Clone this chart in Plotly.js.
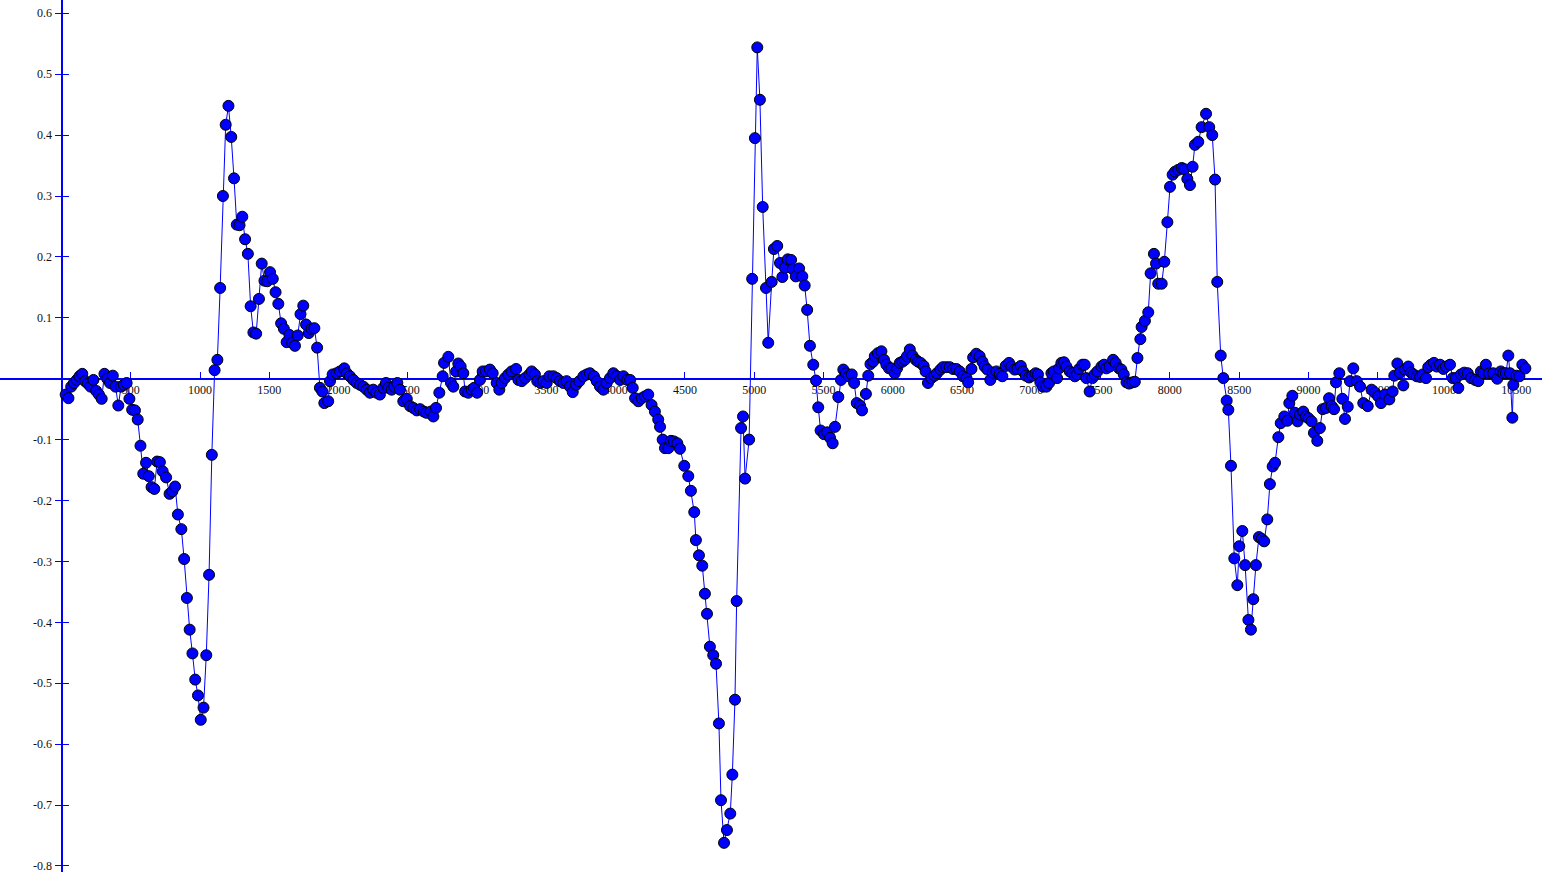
<!DOCTYPE html>
<html>
<head>
<meta charset="utf-8">
<script src="https://cdn.plot.ly/plotly-3.0.1.min.js"></script>
<style>html,body{margin:0;padding:0;background:#fff;overflow:hidden}#chart{width:1542px;height:872px}</style>
</head>
<body>
<div id="chart"></div>
<script>
// sample positions (x) and measured values (y)
const xs = [
30,50,70,90,110,130,150,170,190,210,230,250,270,290,310,330,350,370,390,410,430,450,470,490,510,530,550,570,590,610,630,650,670,690,710,730,755,780,800,820,840,865,885,905,925,945,965,985,1005,1025,1045,1065,1085,1105,1125,1145,1165,1185,1205,1225,1245,1265,1285,1305,1325,1345,1365,1385,1405,1425,1445,1465,1485,1505,1525,1545,1565,1585,1605,1625,1645,1665,1685,1705,1725,1745,1765,1785,1805,1825,1845,
1865,1883,1897,1925,1938,1957,1986,2010,2041,2059,2082,2106,2131,2155,2179,2203,2226,2250,2274,2298,2322,2342,2359,2383,2402,2424,2443,2467,2492,2516,2539,2564,2588,2616,2635,2664,2684,2703,2727,2751,2761,2792,2811,2828,2848,2864,2881,2900,2913,2936,2961,2978,3000,3020,3040,3064,3092,3112,3141,3160,3177,3201,3225,3249,3281,3298,3322,3346,3377,3394,3417,3434,3458,3477,3502,3521,3550,3574,3598,3622,3646,3670,3690,3714,3738,3767,3791,3814,3843,3863,3887,3911,3935,3959,3983,4008,4032,4056,4084,4104,4123,4140,4164,4188,4211,4235,4259,4283,
4307,4320,4339,4356,4380,4399,4421,4445,4464,4495,4524,4543,4567,4579,4601,4625,4644,4659,4680,4704,4724,4745,4760,4782,4803,4827,4842,4861,4873,4905,4919,4934,4963,4985,5005,5022,5041,5061,5085,5101,5126,5142,5166,5186,5203,5222,5242,5266,5278,5300,5324,5347,5364,5382,5402,5426,5446,5462,5479,5503,5527,5547,5566,5583,5607,5626,5643,5663,5682,5704,5721,5740,5764,5778,5806,5823,
5839,5858,5870,5893,5918,5937,5954,5973,5990,6014,6031,6051,6070,6087,6103,6123,6142,6166,6183,6201,6223,6237,6254,6278,6302,6319,6344,6362,6387,6411,6435,6459,6483,6507,6532,6544,6568,6580,6603,6627,6647,6663,6683,6704,6723,6748,6772,6791,6815,6839,6857,6880,6900,6924,6940,6960,6984,7007,7031,7048,7065,7084,7109,7128,7145,7162,7186,7200,7217,7236,7253,7277,7297,7314,7330,7345,7369,7385,7397,7421,7441,7457,7477,7506,7525,7542,7566,7590,7609,7633,7650,7667,7687,7706,7730,7747,7766,7787,
7796,7820,7844,7861,7885,7900,7916,7941,7960,7982,8001,8020,8037,8061,8086,8104,8126,8145,8164,8181,8205,8229,8261,8284,8306,8326,8342,8367,8386,
8410,8422,8441,8465,8487,8501,8523,8543,8567,8585,8602,8621,8643,8663,8681,8703,8722,8742,8759,8783,8800,8826,8848,8862,8884,8903,8922,8940,8963,8982,9001,9023,9040,9064,9083,9103,9127,9149,9168,9185,9199,9223,9245,9264,9284,9300,9324,9349,9373,9396,9428,9456,9480,9504,9524,9553,9584,9608,9620,9642,9661,9685,9697,9721,9741,9758,9782,9806,9825,9849,9865,9884,9906,9926,9950,9974,9993,10022,10042,10065,10082,10101,10125,10150,10174,10203,10226,10245,10262,10281,10305,10334,10363,10388,10407,10426,10443,10455,10472,10479,10502,10523,10544,10566
];
const ys = [
-0.026,-0.032,-0.013,-0.007,-0.002,0.004,0.008,-0.004,-0.008,-0.013,-0.002,-0.020,-0.026,-0.033,0.008,0.000,-0.007,0.005,-0.013,-0.044,-0.013,-0.010,-0.007,-0.033,-0.051,-0.052,-0.067,-0.110,-0.156,-0.138,-0.160,-0.178,-0.181,-0.136,-0.137,-0.152,-0.162,-0.189,-0.185,-0.177,-0.223,-0.247,-0.296,-0.360,-0.412,-0.451,-0.494,-0.520,-0.560,-0.540,-0.454,-0.322,-0.125,0.014,0.031,0.149,0.300,0.417,0.448,0.397,0.329,0.253,0.252,0.266,0.229,0.205,0.119,0.076,0.074,0.131,0.189,0.161,0.160,0.175,0.164,0.142,0.123,0.091,0.082,0.060,0.072,0.059,0.054,0.071,0.106,0.120,0.089,0.075,0.082,0.083,0.051,
-0.015,-0.021,-0.040,-0.037,-0.004,0.007,0.009,0.012,0.017,0.009,0.004,-0.002,-0.007,-0.010,-0.013,-0.018,-0.023,-0.018,-0.023,-0.026,-0.015,-0.007,-0.015,-0.018,-0.013,-0.007,-0.018,-0.037,-0.033,-0.045,-0.048,-0.052,-0.050,-0.054,-0.056,-0.054,-0.062,-0.048,-0.023,0.004,0.026,0.036,-0.007,-0.013,0.012,0.025,0.020,0.009,-0.021,-0.023,-0.018,-0.015,-0.023,-0.002,0.012,0.012,0.015,0.009,-0.007,-0.018,-0.007,0.001,0.007,0.012,0.016,-0.002,-0.004,0.001,0.007,0.012,0.007,-0.004,-0.007,-0.004,-0.007,0.004,0.004,0.001,-0.004,-0.007,-0.004,-0.013,-0.022,-0.010,-0.004,0.004,0.007,0.009,0.004,-0.004,-0.013,-0.018,-0.007,0.001,0.009,0.004,-0.002,0.004,-0.002,-0.002,-0.015,-0.032,-0.037,-0.032,-0.029,-0.026,-0.043,-0.054,
-0.067,-0.079,-0.100,-0.114,-0.114,-0.102,-0.103,-0.106,-0.115,-0.143,-0.160,-0.184,-0.219,-0.265,-0.290,-0.307,-0.353,-0.386,-0.440,-0.454,-0.468,-0.566,-0.692,-0.762,-0.741,-0.714,-0.650,-0.527,-0.365,-0.081,-0.062,-0.164,-0.100,0.164,0.395,0.544,0.458,0.282,0.149,0.059,0.159,0.213,0.218,0.190,0.167,0.182,0.196,0.195,0.180,0.168,0.181,0.168,0.153,0.113,0.054,0.023,-0.003,-0.047,-0.085,-0.091,-0.088,-0.097,-0.106,-0.079,-0.030,-0.002,0.015,0.009,0.004,0.007,-0.007,-0.040,-0.044,-0.052,-0.025,0.005,
0.024,0.028,0.037,0.042,0.045,0.031,0.023,0.017,0.017,0.009,0.017,0.026,0.028,0.031,0.037,0.048,0.038,0.031,0.028,0.026,0.021,0.012,-0.007,0.001,0.005,0.009,0.015,0.019,0.019,0.019,0.016,0.016,0.012,0.004,0.001,-0.006,0.016,0.035,0.041,0.037,0.028,0.020,0.015,-0.002,0.010,0.012,0.008,0.004,0.021,0.026,0.020,0.015,0.016,0.021,0.012,0.005,0.002,0.005,0.009,0.007,-0.006,-0.013,-0.013,-0.007,0.009,0.012,0.001,0.017,0.026,0.027,0.020,0.012,0.009,0.004,0.007,0.016,0.023,0.023,0.001,-0.021,0.001,0.007,0.012,0.020,0.023,0.017,0.020,0.031,0.026,0.017,0.015,0.007,-0.006,-0.008,-0.006,-0.005,0.034,0.065,
0.085,0.095,0.109,0.173,0.205,0.189,0.156,0.156,0.192,0.257,0.315,0.335,0.340,0.343,0.346,0.344,0.328,0.318,0.348,0.384,0.389,0.413,0.435,0.413,0.400,0.327,0.159,0.038,0.001,
-0.036,-0.051,-0.143,-0.295,-0.339,-0.275,-0.250,-0.306,-0.396,-0.412,-0.362,-0.306,-0.260,-0.263,-0.267,-0.231,-0.173,-0.144,-0.138,-0.096,-0.073,-0.062,-0.069,-0.040,-0.028,-0.056,-0.070,-0.059,-0.054,-0.062,-0.065,-0.070,-0.089,-0.102,-0.081,-0.050,-0.048,-0.032,-0.045,-0.050,-0.006,0.009,-0.033,-0.066,-0.046,-0.004,0.017,-0.004,-0.013,-0.040,-0.045,-0.018,-0.023,-0.029,-0.040,-0.026,-0.034,-0.021,0.005,0.025,0.010,-0.011,0.015,0.020,0.010,0.007,0.004,0.003,0.007,0.001,0.019,0.023,0.026,0.020,0.023,0.016,0.020,0.023,0.001,0.001,-0.015,0.007,0.010,0.009,0.001,-0.002,-0.004,0.012,0.009,0.023,0.009,0.009,0.000,0.012,0.009,0.009,0.038,0.009,-0.064,-0.010,0.005,0.004,0.023,0.017
];
const xTickVals = [500,1000,1500,2000,2500,3000,3500,4000,4500,5000,5500,6000,6500,7000,7500,8000,8500,9000,9500,10000,10500];
const yTickVals = [0.6,0.5,0.4,0.3,0.2,0.1,-0.1,-0.2,-0.3,-0.4,-0.5,-0.6,-0.7,-0.8];
const yTickText = ['0.6','0.5','0.4','0.3','0.2','0.1','-0.1','-0.2','-0.3','-0.4','-0.5','-0.6','-0.7','-0.8'];

const xRange = [-444, 10686];
const yRange = [-0.8099, 0.6218];
const blue = '#0000FF';
const tickFont = {family: 'Liberation Serif, Times New Roman, serif', size: 12, color: '#111'};

const xPos = (0 - yRange[0]) / (yRange[1] - yRange[0]);
const yPos = (0 - xRange[0]) / (xRange[1] - xRange[0]);

const traces = [
  {x: xs, y: ys, type: 'scatter', mode: 'lines+markers',
   line: {color: blue, width: 1},
   marker: {color: blue, size: 11, line: {color: '#000', width: 1}},
   hoverinfo: 'none'},
  {x: [], y: [], type: 'scatter', yaxis: 'y2', hoverinfo: 'none', showlegend: false}
];

const layout = {
  width: 1542, height: 872,
  margin: {l: 0, r: 0, t: 0, b: 0, pad: 0},
  paper_bgcolor: '#fff', plot_bgcolor: '#fff',
  showlegend: false,
  xaxis: {range: xRange, anchor: 'free', position: xPos, showline: true, linecolor: blue, linewidth: 2,
          ticks: 'inside', ticklen: 6, tickwidth: 1, tickcolor: blue, tickvals: xTickVals,
          ticktext: xTickVals.map(String), tickfont: tickFont, showgrid: false, zeroline: false,
          ticklabeloverflow: 'allow', layer: 'below traces', fixedrange: true},
  yaxis: {range: yRange, anchor: 'free', position: yPos, showline: true, linecolor: blue, linewidth: 2,
          ticks: 'outside', ticklen: 6, tickwidth: 1, tickcolor: blue, tickvals: yTickVals,
          ticktext: yTickText, tickfont: tickFont, showgrid: false, zeroline: false,
          ticklabeloverflow: 'allow', layer: 'below traces', fixedrange: true},
  yaxis2: {range: yRange, overlaying: 'y', anchor: 'free', position: yPos, showline: false,
           ticks: 'inside', ticklen: 6, tickwidth: 1, tickcolor: blue, tickvals: yTickVals,
           showticklabels: false, showgrid: false, zeroline: false, layer: 'below traces', fixedrange: true}
};

Plotly.newPlot('chart', traces, layout, {displayModeBar: false, staticPlot: true});
</script>
</body>
</html>
